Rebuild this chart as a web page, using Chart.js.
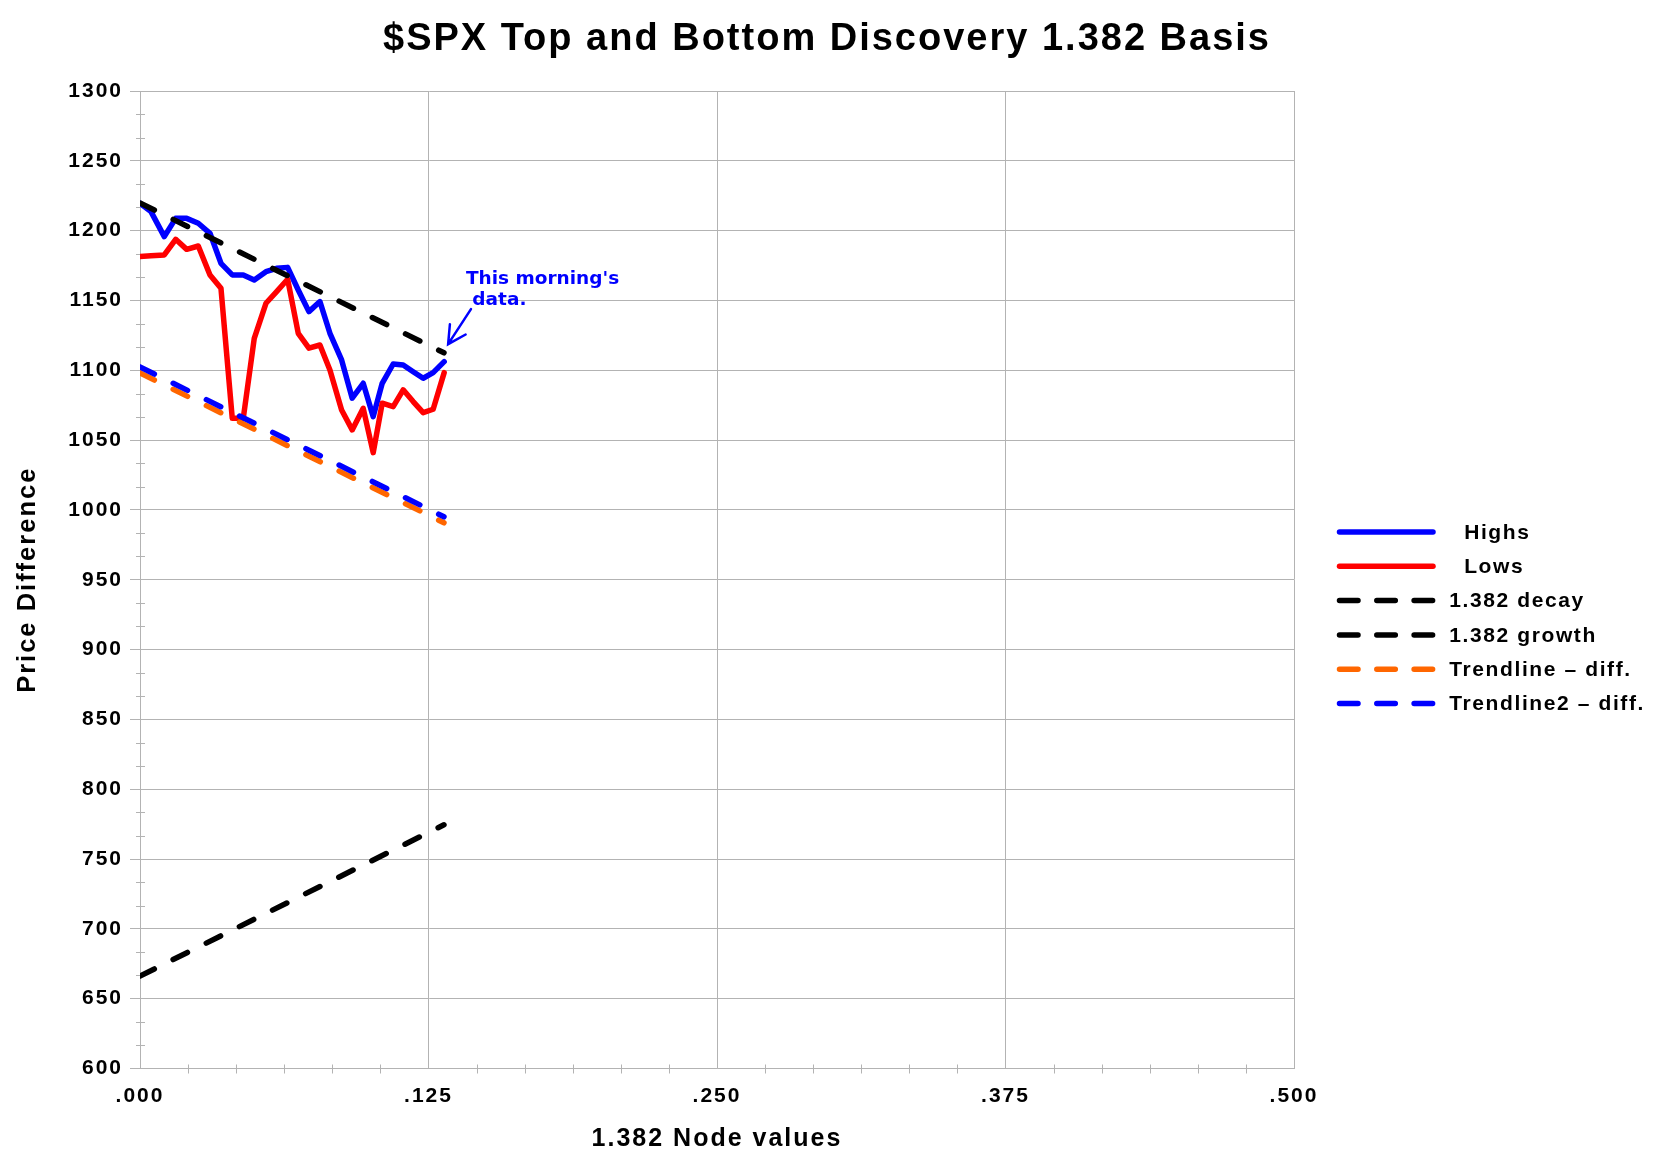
<!DOCTYPE html>
<html>
<head>
<meta charset="utf-8">
<script src="https://cdn.jsdelivr.net/npm/chart.js@4/dist/chart.umd.min.js"></script>
<style>html,body{margin:0;padding:0;background:#fff;}canvas{display:block;}</style>
</head>
<body>
<canvas id="c" width="1654" height="1169"></canvas>
<script>
// ---- data ----
const nodeX = [0, 0.00476, 0.01052, 0.01546, 0.02023, 0.02525, 0.03032, 0.03508, 0.03997, 0.04474,
  0.0495, 0.05457, 0.0592, 0.06397, 0.06856, 0.07319, 0.07796, 0.08229, 0.08735, 0.09194,
  0.09671, 0.10104, 0.10494, 0.1097, 0.11403, 0.11836, 0.12269, 0.12702, 0.13179];
const highs = [1219.6, 1213.6, 1195.7, 1208.8, 1208.8, 1205.3, 1198.1, 1176.6, 1168.3, 1168.3,
  1164.7, 1170.6, 1173.0, 1173.7, 1157.5, 1142.0, 1149.2, 1126.5, 1107.4, 1080.0,
  1090.7, 1066.8, 1090.7, 1104.5, 1103.8, 1099.0, 1094.3, 1098.3, 1106.2];
const lows = [1181.4, 1182.0, 1182.6, 1193.8, 1186.6, 1189.0, 1168.3, 1158.7, 1065.6, 1065.6,
  1122.9, 1148.0, 1156.3, 1165.2, 1126.5, 1115.8, 1118.1, 1100.2, 1071.6, 1057.3,
  1072.8, 1041.0, 1076.4, 1074.0, 1086.0, 1077.6, 1069.7, 1072.1, 1098.3];
const lineX = [0, 0.1317];
const decay = [1219.8, 1112.5];
const growth = [666.2, 774.5];
const trendDiff = [1098.1, 990.8];
const trend2Diff = [1102.4, 995.1];

const seriesLabels = ['  Highs', '  Lows', '1.382 decay', '1.382 growth', 'Trendline \u2013 diff.', 'Trendline2 \u2013 diff.'];
const titleText = '$SPX Top and Bottom Discovery 1.382 Basis';
const xAxisTitle = '1.382 Node values';
const yAxisTitle = 'Price Difference';
const xRange = [0, 0.5], xStep = 0.125, xMinorDiv = 6;
const yRange = [600, 1300], yStep = 50, yMinorDiv = 3;
const noteLines = ["This morning's", " data."];
const noteText = {x: 0.1412, y: 1162.1};
const arrowTip = {x: 0.1335, y: 1118.7};
const arrowTail = {x: 0.1434, y: 1143.8};

// ---- styling ----
const FONT = "'Liberation Sans', Arial, Helvetica, sans-serif";
const GRID = '#b3b3b3';
const pts = (xs, ys) => xs.map((x, i) => ({x: x, y: ys[i]}));
const DASH = [16, 21];
const LW = 5.5;

const spacingPlugin = {
  id: 'spacing',
  beforeUpdate(chart) { chart.ctx.letterSpacing = '2px'; },
  beforeLayout(chart) { chart.ctx.letterSpacing = '2px'; },
  beforeDraw(chart) { chart.ctx.letterSpacing = '2px'; }
};

const rightBoxPlugin = {
  id: 'rightBox',
  beforeInit(chart) {
    const box = {
      position: 'right', weight: 0, fullSize: false, options: {},
      width: 0, height: 0, left: 0, top: 0, right: 0, bottom: 0,
      isHorizontal() { return false; },
      update(maxW, maxH) { this.width = 360; this.height = maxH; },
      draw() {}
    };
    chart.$rightBox = box;
    Chart.layouts.addBox(chart, box);
  },
  afterDraw(chart) {
    const ctx = chart.ctx;
    const box = chart.$rightBox;
    const x1 = box.left + 45.5, x2 = box.left + 139, tx = box.left + 155.3;
    const top = 532, row = 34.3;
    chart.data.datasets.forEach((ds, i) => {
      const y = top + i * row;
      ctx.save();
      ctx.strokeStyle = ds.borderColor;
      ctx.lineWidth = 5.5;
      ctx.lineCap = 'round';
      ctx.setLineDash(ds.borderDash ? [18.5, 18.8] : []);
      ctx.beginPath(); ctx.moveTo(x1, y); ctx.lineTo(x2, y); ctx.stroke();
      ctx.setLineDash([]);
      ctx.letterSpacing = '1.6px';
      ctx.fillStyle = '#000';
      ctx.font = 'bold 21px ' + FONT;
      ctx.textBaseline = 'middle';
      ctx.textAlign = 'left';
      ctx.fillText(ds.label, tx, y + 1);
      ctx.restore();
    });
  }
};

const minorTicksPlugin = {
  id: 'minorTicks',
  beforeDatasetsDraw(chart) {
    const ctx = chart.ctx, xs = chart.scales.x, ys = chart.scales.y;
    ctx.save();
    ctx.strokeStyle = GRID; ctx.lineWidth = 1;
    ctx.beginPath();
    const nY = Math.round((yRange[1] - yRange[0]) / yStep * yMinorDiv);
    for (let i = 1; i < nY; i++) {
      if (i % yMinorDiv === 0) continue;
      const py = Math.round(ys.getPixelForValue(yRange[0] + i * yStep / yMinorDiv)) + 0.5;
      ctx.moveTo(xs.left - 4, py); ctx.lineTo(xs.left + 5, py);
    }
    const nX = Math.round((xRange[1] - xRange[0]) / xStep * xMinorDiv);
    for (let i = 1; i < nX; i++) {
      if (i % xMinorDiv === 0) continue;
      const px = Math.round(xs.getPixelForValue(xRange[0] + i * xStep / xMinorDiv)) + 0.5;
      ctx.moveTo(px, ys.bottom - 4); ctx.lineTo(px, ys.bottom + 5);
    }
    ctx.stroke();
    ctx.restore();
  }
};

const notePlugin = {
  id: 'note',
  afterDatasetsDraw(chart) {
    const ctx = chart.ctx, xs = chart.scales.x, ys = chart.scales.y;
    ctx.save();
    ctx.letterSpacing = '0px';
    ctx.fillStyle = '#0000ff';
    ctx.font = "bold 18.5px 'DejaVu Sans', sans-serif";
    ctx.textBaseline = 'alphabetic';
    ctx.textAlign = 'left';
    const tx = xs.getPixelForValue(noteText.x), ty = ys.getPixelForValue(noteText.y);
    noteLines.forEach((t, i) => ctx.fillText(t, tx, ty + i * 21.7));
    const ax = xs.getPixelForValue(arrowTip.x), ay = ys.getPixelForValue(arrowTip.y);
    const bx = xs.getPixelForValue(arrowTail.x), by = ys.getPixelForValue(arrowTail.y);
    ctx.strokeStyle = '#0000ff'; ctx.lineWidth = 2.5; ctx.lineCap = 'round';
    ctx.beginPath(); ctx.moveTo(bx, by); ctx.lineTo(ax, ay);
    const ang = Math.atan2(by - ay, bx - ax), a = 28 * Math.PI / 180, L = 20;
    ctx.moveTo(ax + L * Math.cos(ang - a), ay + L * Math.sin(ang - a)); ctx.lineTo(ax, ay);
    ctx.lineTo(ax + L * Math.cos(ang + a), ay + L * Math.sin(ang + a));
    ctx.stroke();
    ctx.restore();
  }
};

const lineDs = (i, data, color, order, dashed) => ({
  label: seriesLabels[i], data: data, borderColor: color, backgroundColor: color,
  borderWidth: LW, order: order, borderDash: dashed ? DASH : undefined,
  borderCapStyle: 'round', borderJoinStyle: 'round', pointRadius: 0, fill: false, tension: 0
});

new Chart(document.getElementById('c').getContext('2d'), {
  type: 'line',
  data: {
    datasets: [
      lineDs(0, pts(nodeX, highs), '#0000ff', 6, false),
      lineDs(1, pts(nodeX, lows), '#ff0000', 5, false),
      lineDs(2, pts(lineX, decay), '#000000', 4, true),
      lineDs(3, pts(lineX, growth), '#000000', 3, true),
      lineDs(4, pts(lineX, trendDiff), '#ff6600', 2, true),
      lineDs(5, pts(lineX, trend2Diff), '#0000ff', 1, true)
    ]
  },
  options: {
    responsive: false, animation: false, devicePixelRatio: 1,
    layout: {padding: 0},
    elements: {point: {radius: 0, hoverRadius: 0}},
    plugins: {
      legend: {display: false},
      tooltip: {enabled: false},
      title: {
        display: true, text: titleText, color: '#000',
        font: {family: FONT, size: 38, weight: 'bold', lineHeight: 1.2},
        padding: {top: 17, bottom: 28.4}
      }
    },
    scales: {
      x: {
        type: 'linear', min: xRange[0], max: xRange[1],
        ticks: {stepSize: xStep, callback: v => v.toFixed(3).replace(/^0/, ''), color: '#000',
          font: {family: FONT, size: 21, weight: 'bold'}, padding: 15, maxRotation: 0, autoSkip: false},
        grid: {color: GRID, lineWidth: 1, drawTicks: false},
        border: {color: GRID, width: 1},
        title: {display: true, text: xAxisTitle, color: '#000',
          font: {family: FONT, size: 25, weight: 'bold', lineHeight: 1.2}, padding: {top: 0, bottom: 14.5}},
        afterFit(s) { s.height = 100.5; }
      },
      y: {
        type: 'linear', min: yRange[0], max: yRange[1],
        ticks: {stepSize: yStep, callback: v => String(v), color: '#000',
          font: {family: FONT, size: 21, weight: 'bold'}, padding: 7},
        grid: {color: GRID, lineWidth: 1, drawTicks: true, tickLength: 10},
        border: {color: GRID, width: 1},
        title: {display: true, text: yAxisTitle, color: '#000',
          font: {family: FONT, size: 25.5, weight: 'bold', lineHeight: 1.2}, padding: {top: 13, bottom: 0}},
        afterFit(s) { s.width = 140; }
      }
    }
  },
  plugins: [spacingPlugin, rightBoxPlugin, minorTicksPlugin, notePlugin]
});
</script>
</body>
</html>
